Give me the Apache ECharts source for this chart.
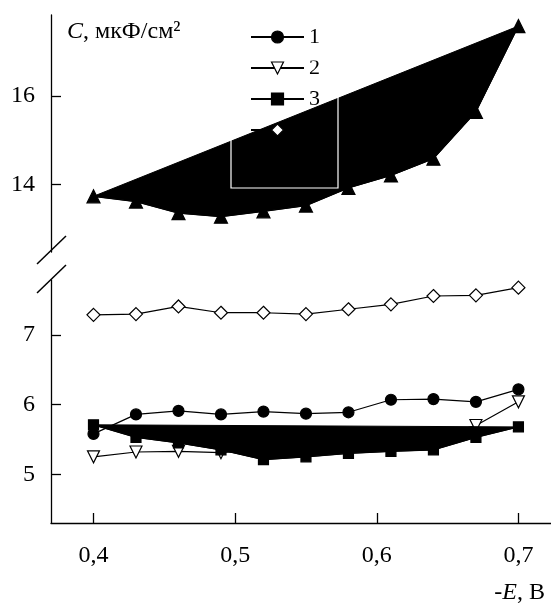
<!DOCTYPE html>
<html>
<head>
<meta charset="utf-8">
<script src="https://cdn.jsdelivr.net/npm/echarts@6/dist/echarts.min.js"></script>
<style>
  html, body { margin: 0; padding: 0; background: #fff; }
  #chart { width: 551px; height: 606px; }
</style>
</head>
<body>
<div id="chart"></div>
<script>
// -E, V
const potentials = [0.40, 0.43, 0.46, 0.49, 0.52, 0.55, 0.58, 0.61, 0.64, 0.67, 0.70]
// C, uF/cm2
const curve1 = [5.58, 5.86, 5.91, 5.86, 5.90, 5.87, 5.89, 6.07, 6.08, 6.04, 6.22]
const curve2 = [5.25, 5.32, 5.33, 5.31, 5.35, 5.38, 5.42, 5.47, 5.55, 5.70, 6.04]
const curve3 = [5.71, 5.53, 5.45, 5.35, 5.21, 5.25, 5.30, 5.33, 5.35, 5.53, 5.68]
const curve4 = [7.29, 7.30, 7.41, 7.32, 7.32, 7.30, 7.37, 7.44, 7.56, 7.57, 7.68]
const curveTop = [13.73, 13.61, 13.35, 13.27, 13.39, 13.52, 13.92, 14.20, 14.58, 15.64, 17.58]

const xTicks = [0.4, 0.5, 0.6, 0.7]
const yTicksTop = [14, 16]
const yTicksBottom = [5, 6, 7]

const serif = '"Liberation Serif", "Times New Roman", Times, serif'
const pairs = (ys) => potentials.map((x, i) => [x, ys[i]])

// closed polygon through all points of a curve (first joined to last)
const polygonSeries = (ys, gi, z) => ({
  type: 'custom',
  coordinateSystem: 'cartesian2d',
  xAxisIndex: gi,
  yAxisIndex: gi,
  z: z,
  silent: true,
  data: [0],
  renderItem: (params, api) => ({
    type: 'polygon',
    shape: { points: potentials.map((x, i) => api.coord([x, ys[i]])) },
    style: { fill: '#000', stroke: '#000', lineWidth: 1 }
  })
})

const lineSeries = (name, ys, gi, z, symbol, filled, size, rotate) => ({
  name: name,
  type: 'line',
  xAxisIndex: gi,
  yAxisIndex: gi,
  z: z,
  data: pairs(ys),
  symbol: symbol,
  symbolSize: size,
  symbolRotate: rotate || 0,
  showAllSymbol: true,
  lineStyle: { color: '#000', width: 1.2 },
  itemStyle: { color: filled ? '#000' : '#fff', borderColor: '#000', borderWidth: 1.2 },
  emphasis: { disabled: true }
})

const axisBase = {
  axisLine: { lineStyle: { color: '#000', width: 1.3 } },
  axisTick: { inside: true, length: 10, lineStyle: { color: '#000', width: 1.3 } },
  splitLine: { show: false },
  axisLabel: { color: '#000', fontFamily: serif, fontSize: 24 }
}

const chart = echarts.init(document.getElementById('chart'))

chart.setOption({
  animation: false,
  textStyle: { fontFamily: serif },
  grid: [
    { left: 51, right: 0, top: 15, height: 237 },
    { left: 51, right: 0, top: 280, height: 243 }
  ],
  xAxis: [
    { type: 'value', gridIndex: 0, min: 0.37, max: 0.723, show: false },
    {
      ...axisBase,
      type: 'value', gridIndex: 1, min: 0.37, max: 0.723,
      axisTick: { ...axisBase.axisTick, customValues: xTicks },
      axisLabel: {
        ...axisBase.axisLabel, margin: 21, customValues: xTicks,
        formatter: (v) => v.toFixed(1).replace('.', ',')
      }
    }
  ],
  yAxis: [
    {
      ...axisBase,
      type: 'value', gridIndex: 0, min: 12.47, max: 17.83,
      axisTick: { ...axisBase.axisTick, customValues: yTicksTop },
      axisLabel: { ...axisBase.axisLabel, margin: 16, customValues: yTicksTop }
    },
    {
      ...axisBase,
      type: 'value', gridIndex: 1, min: 4.30, max: 7.79,
      axisTick: { ...axisBase.axisTick, customValues: yTicksBottom },
      axisLabel: { ...axisBase.axisLabel, margin: 16, customValues: yTicksBottom }
    }
  ],
  legend: {
    orient: 'vertical',
    left: 245,
    top: 21,
    itemWidth: 53,
    itemHeight: 15,
    itemGap: 9,
    itemStyle: { borderWidth: 1.2 },
    textStyle: { color: '#000', fontFamily: serif, fontSize: 22, lineHeight: 21 },
    data: ['1', '2', '3', ' '],
    selectedMode: false
  },
  graphic: [
    {
      type: 'text', left: 67, top: 20, z: 50,
      style: {
        text: '{i|C}, мкФ/см²',
        fill: '#000',
        fontFamily: serif,
        fontSize: 24,
        rich: { i: { fontStyle: 'italic', fontFamily: serif, fontSize: 24 } }
      }
    },
    {
      type: 'text', right: 6, top: 581, z: 50,
      style: {
        text: '-{i|E}, В',
        fill: '#000',
        fontFamily: serif,
        fontSize: 24,
        rich: { i: { fontStyle: 'italic', fontFamily: serif, fontSize: 24 } }
      }
    },
    { type: 'line', z: 50, shape: { x1: 37, y1: 264, x2: 66, y2: 236 }, style: { stroke: '#000', lineWidth: 1.5 } },
    { type: 'line', z: 50, shape: { x1: 37, y1: 293, x2: 66, y2: 265 }, style: { stroke: '#000', lineWidth: 1.5 } },
    {
      type: 'rect', z: 40, silent: true,
      shape: { x: 231, y: 60, width: 107, height: 128 },
      style: { fill: 'none', stroke: '#fff', lineWidth: 1.2 }
    }
  ],
  series: [
    polygonSeries(curveTop, 0, 2),
    lineSeries('top', curveTop, 0, 3, 'triangle', true, 13),
    lineSeries(' ', curve4, 1, 2, 'diamond', false, 13),
    lineSeries('1', curve1, 1, 2, 'circle', true, 11),
    lineSeries('2', curve2, 1, 2, 'triangle', false, 12, 180),
    polygonSeries(curve3, 1, 5),
    lineSeries('3', curve3, 1, 6, 'rect', true, 10)
  ]
})
</script>
</body>
</html>
